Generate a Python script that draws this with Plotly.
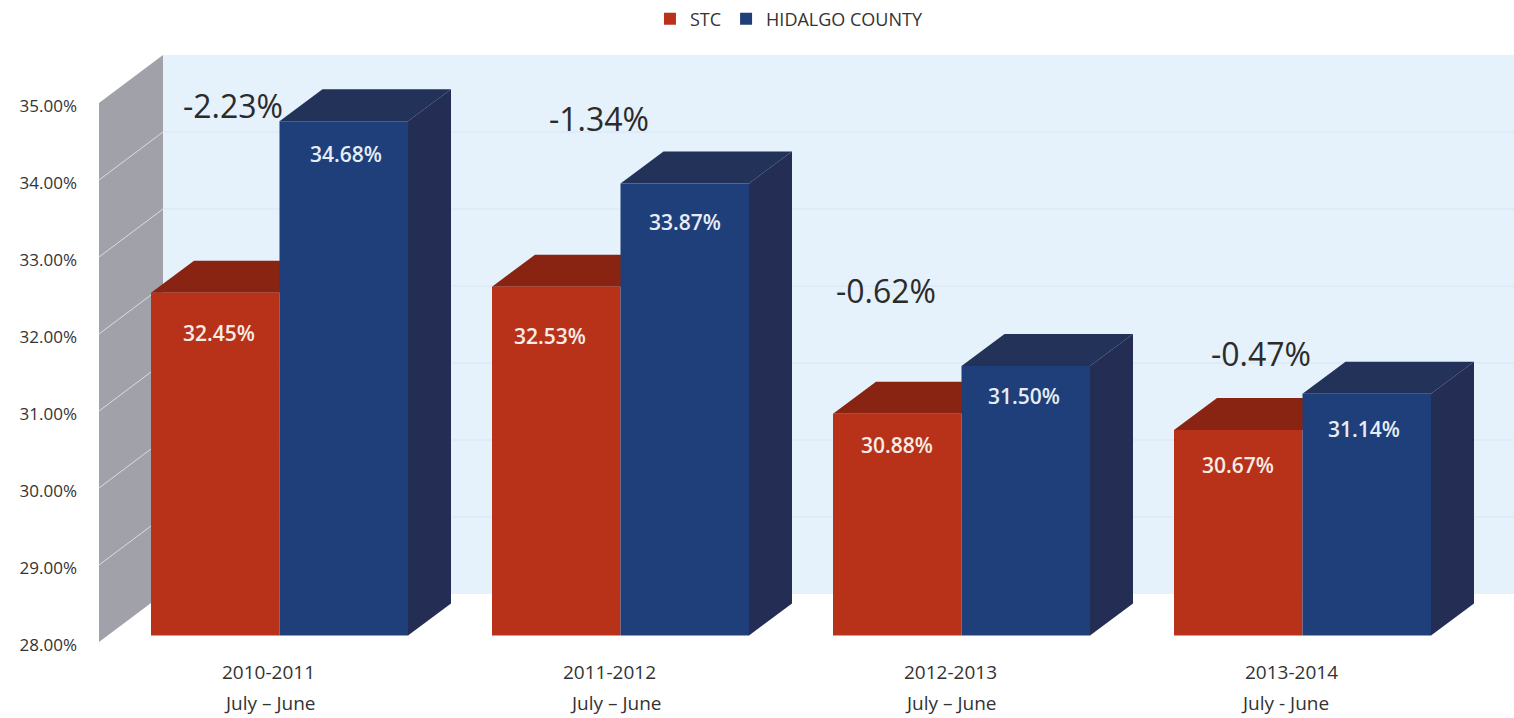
import plotly.graph_objects as go

# ---- data ----
PERIODS = ["2010-2011", "2011-2012", "2012-2013", "2013-2014"]
MONTHS = ["July – June", "July – June", "July – June", "July - June"]
STC = [32.45, 32.53, 30.88, 30.67]
HIDALGO = [34.68, 33.87, 31.50, 31.14]
DIFFS = [-2.23, -1.34, -0.62, -0.47]
Y_TICKS = [28, 29, 30, 31, 32, 33, 34, 35]

# ---- layout constants (pixel geometry of the plot) ----
W, H = 1514, 718
M_L, M_R, M_T, M_B = 99, 0, 0, 68
PX_PER_X = 341.0
PX_PER_Y = 77.0
X0_PX = 279.5      # pixel of category 0
Y28_PX = 635.5     # pixel of value 28
BASE = 28
BAR_W = 128.5 / PX_PER_X
DX = 43 / PX_PER_X
DY = 32 / PX_PER_Y
x_range = [(M_L - X0_PX) / PX_PER_X, (W - M_R - X0_PX) / PX_PER_X]
y_range = [BASE - (H - M_B - Y28_PX) / PX_PER_Y, BASE + (Y28_PX - M_T) / PX_PER_Y]
WALL_DX = 64 / PX_PER_X
WALL_FRONT_DY = -6.5 / PX_PER_Y
WALL_BACK_DY = 41.5 / PX_PER_Y

# label tweaks, px
STC_LABEL_DX = [4, -6, 0, 0]
STC_LABEL_DROP = [40, 49, 31, 35]
HID_LABEL_DX = [2, 0, -2, -3]
HID_LABEL_DROP = [33, 38, 30, 35]
DIFF_DX = [-46.5, -21.5, -75.5, -41.5]
DIFF_RISE = [16, 65, 76, 40]
MONTH_DX = [-9.5, -4.5, -11, -17.5]

RED, RED_TOP = "#b8321a", "#8a2412"
BLUE, BLUE_TOP, BLUE_SIDE = "#1e3f7a", "#233259", "#242e54"
WALL_L, WALL_B, GRID_B = "#a0a1a9", "#e5f1fb", "#d9e7f4"
INK = "#333333"
FONT = "Open Sans"


def poly(points, color):
    path = "M " + " L ".join(f"{x},{y}" for x, y in points) + " Z"
    return dict(type="path", path=path, xref="x", yref="y", fillcolor=color,
                line=dict(width=0), layer="below")


def seg(x0, y0, x1, y1, color, width):
    return dict(type="line", x0=x0, y0=y0, x1=x1, y1=y1, xref="x", yref="y",
                line=dict(color=color, width=width), layer="below")


shapes = []
xf, xb = x_range[0], x_range[0] + WALL_DX
top, bot = max(Y_TICKS), min(Y_TICKS)
# back wall and side wall
shapes.append(poly([(xb, bot + WALL_BACK_DY), (xb, top + WALL_BACK_DY),
                    (x_range[1], top + WALL_BACK_DY), (x_range[1], bot + WALL_BACK_DY)], WALL_B))
for t in Y_TICKS[1:-1]:
    shapes.append(seg(xb, t + WALL_BACK_DY, x_range[1], t + WALL_BACK_DY, GRID_B, 1))
shapes.append(poly([(xf, bot + WALL_FRONT_DY), (xf, top + WALL_FRONT_DY),
                    (xb, top + WALL_BACK_DY), (xb, bot + WALL_BACK_DY)], WALL_L))
for t in Y_TICKS[1:-1]:
    shapes.append(seg(xf, t + WALL_FRONT_DY, xb, t + WALL_BACK_DY, "#dcdce2", 1))

# bar depth faces
for i, (a, b) in enumerate(zip(STC, HIDALGO)):
    l, m, r = i - BAR_W, i, i + BAR_W
    shapes.append(poly([(l, a), (l + DX, a + DY), (m + DX, a + DY), (m, a)], RED_TOP))
    shapes.append(poly([(m, b), (m + DX, b + DY), (r + DX, b + DY), (r, b)], BLUE_TOP))
    shapes.append(poly([(r, b), (r + DX, b + DY), (r + DX, BASE + DY), (r, BASE)], BLUE_SIDE))

fig = go.Figure()
fig.add_bar(name="STC", x=list(range(4)), y=[v - BASE for v in STC], base=BASE,
            marker=dict(color=RED, line=dict(width=0)))
fig.add_bar(name="HIDALGO COUNTY", x=list(range(4)), y=[v - BASE for v in HIDALGO], base=BASE,
            marker=dict(color=BLUE, line=dict(width=0)))

ann = []
for i in range(4):
    ann.append(dict(x=i - BAR_W / 2, y=STC[i], text=f"{STC[i]:.2f}%", showarrow=False,
                    xshift=STC_LABEL_DX[i], yshift=-STC_LABEL_DROP[i], yanchor="middle",
                    font=dict(family=FONT, size=21, color="#f7ece6", weight=600)))
    ann.append(dict(x=i + BAR_W / 2, y=HIDALGO[i], text=f"{HIDALGO[i]:.2f}%", showarrow=False,
                    xshift=HID_LABEL_DX[i], yshift=-HID_LABEL_DROP[i], yanchor="middle",
                    font=dict(family=FONT, size=21, color="#e8edf5", weight=600)))
    ann.append(dict(x=i, y=HIDALGO[i], text=f"{DIFFS[i]:.2f}%", showarrow=False,
                    xshift=DIFF_DX[i], yshift=DIFF_RISE[i], yanchor="middle",
                    font=dict(family=FONT, size=32, color="#2b2b2b")))
    ann.append(dict(x=i, xref="x", y=0, yref="paper", text=MONTHS[i], showarrow=False,
                    xshift=MONTH_DX[i], yshift=-53, yanchor="middle",
                    font=dict(family=FONT, size=19, color=INK)))

fig.update_layout(
    width=W, height=H, autosize=False,
    margin=dict(l=M_L, r=M_R, t=M_T, b=M_B, pad=0),
    paper_bgcolor="white", plot_bgcolor="white",
    barmode="group", bargap=1 - 2 * BAR_W, bargroupgap=0,
    font=dict(family=FONT, color=INK),
    shapes=shapes, annotations=ann,
    showlegend=True,
    legend=dict(orientation="h", x=0.4876, xanchor="center", y=1 - 19 / (H - M_B), yanchor="middle",
                font=dict(family=FONT, size=18, color=INK), bgcolor="rgba(0,0,0,0)",
                traceorder="normal"),
    xaxis=dict(range=x_range, tickmode="array", tickvals=list(range(4)), ticktext=PERIODS,
               showgrid=False, zeroline=False, showline=False, ticks="",
               ticklabelshift=-11, ticklabelstandoff=9, tickfont=dict(family=FONT, size=19, color=INK)),
    yaxis=dict(range=y_range, tickmode="array", tickvals=Y_TICKS,
               ticktext=[f"{t:.2f}%" for t in Y_TICKS],
               showgrid=False, zeroline=False, showline=False, ticks="",
               ticklabelshift=10, ticklabelstandoff=21, tickfont=dict(family=FONT, size=17, color=INK)),
)
fig.write_html("out.html", config=dict(displayModeBar=False),
               post_script="document.body.style.margin='0';")
